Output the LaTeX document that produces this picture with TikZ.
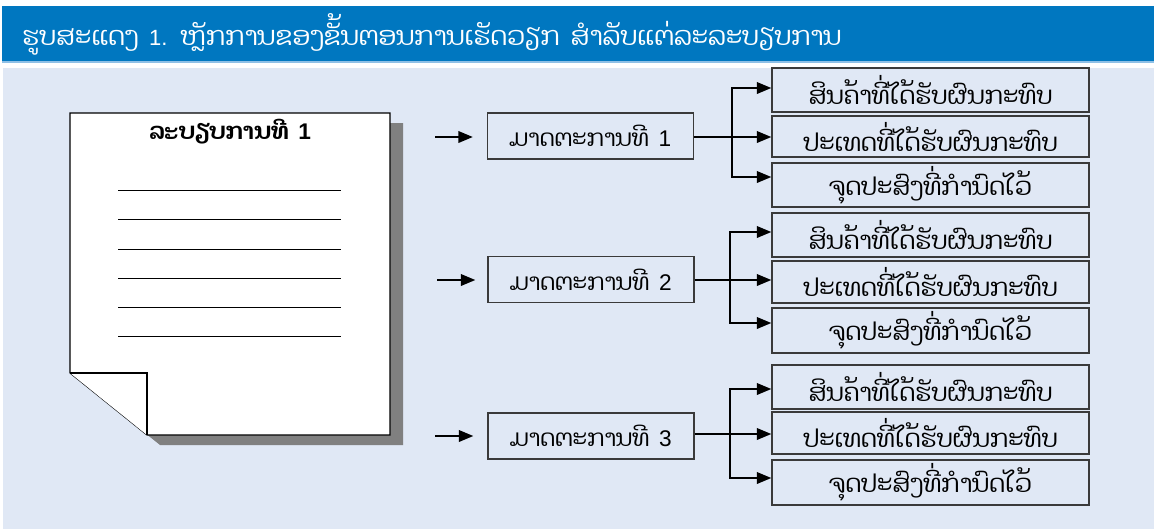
\documentclass[tikz,border=0pt]{standalone}
\usepackage{fontspec}
\newfontfamily\laofont[Script=Lao]{Dhyana}
\newfontfamily\digfont{Liberation Sans}
\usetikzlibrary{arrows.meta,calc}
\definecolor{barblue}{HTML}{0077C0}
\definecolor{bgblue}{HTML}{E0E8F5}
\definecolor{lineblue}{HTML}{8FC0E6}
\definecolor{boxgray}{HTML}{3A3A3A}
\definecolor{shadowgray}{HTML}{808080}
\tikzset{
  measbox/.style={draw=boxgray, line width=0.8pt, minimum width=206*0.75pt, minimum height=46*0.75pt, inner sep=0pt, font=\laofont\fontsize{17.5}{20}\selectfont},
  resbox/.style={draw=boxgray, line width=0.8pt, minimum width=317*0.75pt, inner sep=0pt, font=\laofont\fontsize{18.5}{20}\selectfont},
  flow/.style={line width=2pt, -{Triangle[length=11pt,width=8.5pt]}},
  trunk/.style={line width=2pt},
  ruleline/.style={line width=0.7pt, black}
}
\begin{document}
\begin{tikzpicture}[x=0.75pt,y=-0.75pt]
\useasboundingbox (0,0) rectangle (1154,529);
\fill[white] (0,0) rectangle (1154,529);
% title bar
\fill[barblue] (2,6) rectangle (1154,61);
\fill[lineblue] (2,61) rectangle (1154,63);
\fill[bgblue] (3,68) rectangle (1154,529);
\node[anchor=west, text=white, font=\laofont\fontsize{19.5}{22}\selectfont, inner sep=0pt] (title) at (22,34)
  {ຮູບສະແດງ \,{\digfont\fontsize{16.5}{18}\selectfont 1.}\, ຫຼັກການຂອງຂັ້ນຕອນການເຮັດວຽກ \,ສຳລັບແຕ່ລະລະບຽບການ};
% document
\fill[shadowgray] (83,123) -- (403,123) -- (403,445) -- (160,445) -- (83,383) -- cycle;
\draw[fill=white, line width=0.8pt] (70,113) -- (390,113) -- (390,435) -- (147,435) -- (70,373) -- cycle;
\draw[fill=white, line width=0.8pt] (70,373) -- (147,373) -- (147,435);
\node[font=\laofont\bfseries\fontsize{17.5}{20}\selectfont, inner sep=0pt] (doctitle) at (230,132) {ລະບຽບການທີ \,{\digfont\bfseries\fontsize{17}{20}\selectfont 1}};
\foreach \yy in {190,219,249,278,307,336} { \draw[ruleline] (118,\yy) -- (341,\yy); }
% measure boxes
\node[measbox] (m1) at (590.5,136) {ມາດຕະການທີ \,{\digfont\fontsize{17}{20}\selectfont 1}};
\node[measbox] (m2) at (591,279.5) {ມາດຕະການທີ \,{\digfont\fontsize{17}{20}\selectfont 2}};
\node[measbox] (m3) at (591,436) {ມາດຕະການທີ \,{\digfont\fontsize{17}{20}\selectfont 3}};
% result boxes
\node[resbox, minimum height=44*0.75pt] (r11) at (930.5,90) {ສິນຄ້າທີ່ໄດ້ຮັບຜົນກະທົບ};
\node[resbox, minimum height=41*0.75pt] (r12) at (930.5,136.5) {ປະເທດທີ່ໄດ້ຮັບຜົນກະທົບ};
\node[resbox, minimum height=44*0.75pt] (r13) at (930.5,185) {ຈຸດປະສົງທີ່ກຳນົດໄວ້};
\node[resbox, minimum height=44*0.75pt] (r21) at (930.5,235) {ສິນຄ້າທີ່ໄດ້ຮັບຜົນກະທົບ};
\node[resbox, minimum height=42*0.75pt] (r22) at (930.5,282) {ປະເທດທີ່ໄດ້ຮັບຜົນກະທົບ};
\node[resbox, minimum height=45*0.75pt] (r23) at (930.5,330.5) {ຈຸດປະສົງທີ່ກຳນົດໄວ້};
\node[resbox, minimum height=44*0.75pt] (r31) at (930.5,387) {ສິນຄ້າທີ່ໄດ້ຮັບຜົນກະທົບ};
\node[resbox, minimum height=42*0.75pt] (r32) at (930.5,433) {ປະເທດທີ່ໄດ້ຮັບຜົນກະທົບ};
\node[resbox, minimum height=45*0.75pt] (r33) at (930.5,482.5) {ຈຸດປະສົງທີ່ກຳນົດໄວ້};
% incoming arrows
\coordinate (a1) at (435,137);
\coordinate (a2) at (437,280);
\coordinate (a3) at (435,436);
\draw[flow] (a1) -- ([xshift=-10.5pt]m1.west |- a1);
\draw[flow] (a2) -- ([xshift=-9pt]m2.west |- a2);
\draw[flow] (a3) -- ([xshift=-10.5pt]m3.west |- a3);
% branches
\coordinate (t1top) at (732,88);  \coordinate (t1mid) at (732,137); \coordinate (t1bot) at (732,177);
\coordinate (t2top) at (730,232); \coordinate (t2mid) at (730,280); \coordinate (t2bot) at (730,323);
\coordinate (t3top) at (730,389); \coordinate (t3mid) at (730,434); \coordinate (t3bot) at (730,478);
\draw[trunk] (m1.east |- t1mid) -- (t1mid);
\draw[trunk] (t1top) -- (t1bot);
\draw[flow] ([xshift=-0.75pt]t1top) -- (t1top -| r11.west);
\draw[flow] (t1mid) -- (t1mid -| r12.west);
\draw[flow] ([xshift=-0.75pt]t1bot) -- (t1bot -| r13.west);
\draw[trunk] (m2.east |- t2mid) -- (t2mid);
\draw[trunk] (t2top) -- (t2bot);
\draw[flow] ([xshift=-0.75pt]t2top) -- (t2top -| r21.west);
\draw[flow] (t2mid) -- (t2mid -| r22.west);
\draw[flow] ([xshift=-0.75pt]t2bot) -- (t2bot -| r23.west);
\draw[trunk] (m3.east |- t3mid) -- (t3mid);
\draw[trunk] (t3top) -- (t3bot);
\draw[flow] ([xshift=-0.75pt]t3top) -- (t3top -| r31.west);
\draw[flow] (t3mid) -- (t3mid -| r32.west);
\draw[flow] ([xshift=-0.75pt]t3bot) -- (t3bot -| r33.west);
\end{tikzpicture}
\end{document}
